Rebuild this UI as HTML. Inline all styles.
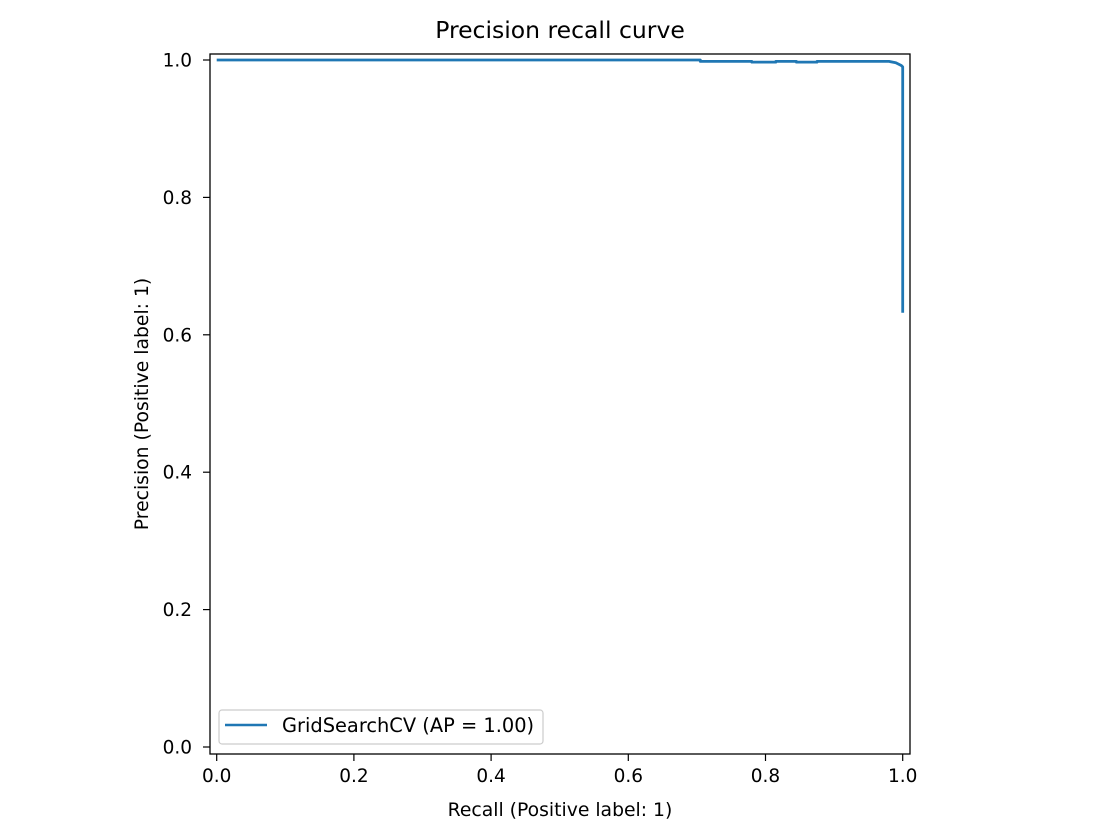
<!DOCTYPE html>
<html><head><meta charset="utf-8"><style>
body{margin:0;background:#fff;}
svg{display:block;font-family:"DejaVu Sans","Liberation Sans",sans-serif;}
</style></head><body>
<svg width="1120" height="840">
<rect x="0" y="0" width="1120" height="840" fill="#fff"/>
<g id="plot"></g>
<text x="560" y="38" font-size="23.5" text-anchor="middle">Precision recall curve</text>
<text x="560" y="816" font-size="18.8" text-anchor="middle">Recall (Positive label: 1)</text>
<text transform="translate(148,404) rotate(-90)" font-size="18.8" text-anchor="middle">Precision (Positive label: 1)</text>
<g>
<rect x="219" y="710" width="324" height="34" rx="3" fill="#fff" stroke="#ccc" stroke-width="1.2"/>
<line x1="225" y1="725" x2="267" y2="725" stroke="#1f77b4" stroke-width="2.6"/>
<text x="282" y="732" font-size="19.4">GridSearchCV (AP = 1.00)</text>
</g>
</svg>
<script>
const recall=[0,0.705,0.705,0.78,0.78,0.815,0.815,0.845,0.845,0.875,0.875,0.98,0.99,0.998,1.0,1.0];
const precision=[1.0,1.0,0.998,0.998,0.997,0.997,0.998,0.998,0.997,0.997,0.998,0.998,0.996,0.992,0.99,0.632];
const ticks=[0,0.2,0.4,0.6,0.8,1.0];
const tickLabels=["0.0","0.2","0.4","0.6","0.8","1.0"];
const NS="http://www.w3.org/2000/svg";
const g=document.getElementById('plot');
const X=v=>216.7+v*686, Y=v=>747-v*687;
function mk(t,a){const e=document.createElementNS(NS,t);for(const k in a)e.setAttribute(k,a[k]);g.appendChild(e);return e;}
let d=recall.map((r,i)=>(i?'L':'M')+X(r).toFixed(1)+','+Y(precision[i]).toFixed(1)).join('');
const line=mk('path',{d:d,fill:'none',stroke:'#1f77b4','stroke-width':2.8,'stroke-linejoin':'round'});


const frame=mk('rect',{x:210,y:54,width:700,height:700,fill:'none',stroke:'#000','stroke-width':1.3});


ticks.forEach((t,i)=>{
 const a=mk('line',{x1:X(t),x2:X(t),y1:754,y2:761,stroke:'#000','stroke-width':1.2});
 
 
 const tx=mk('text',{x:X(t),y:782,'font-size':18.5,'text-anchor':'middle'});tx.textContent=tickLabels[i];
 
 
 const b=mk('line',{x1:203,x2:210,y1:Y(t),y2:Y(t),stroke:'#000','stroke-width':1.2});
 
 
 const ty=mk('text',{x:192,y:Y(t)+6.5,'font-size':18.5,'text-anchor':'end'});ty.textContent=tickLabels[i];
 
 
});
</script>
</body></html>
